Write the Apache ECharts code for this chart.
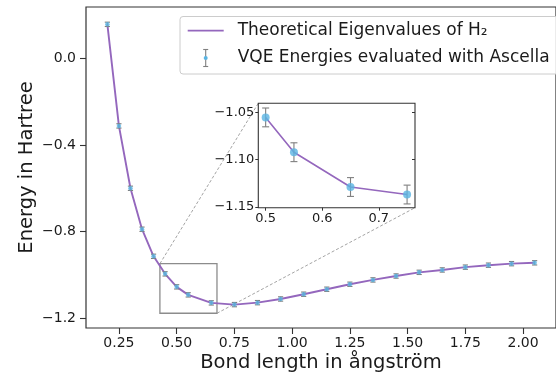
<!DOCTYPE html>
<html>
<head>
<meta charset="utf-8">
<script src="https://cdn.jsdelivr.net/npm/echarts@6/dist/echarts.min.js"></script>
<style>
  html, body { margin: 0; padding: 0; background: #fff; }
  #chart { width: 556px; height: 378px; }
</style>
</head>
<body>
<div id="chart"></div>
<script>
// ---- data ----
const bondLengths = [0.2, 0.25, 0.3, 0.35, 0.4, 0.45, 0.5, 0.55, 0.65, 0.75, 0.85, 0.95,
  1.05, 1.15, 1.25, 1.35, 1.45, 1.55, 1.65, 1.75, 1.85, 1.95, 2.05];
const theoryEnergies = [0.157, -0.312, -0.600, -0.789, -0.914, -0.995, -1.055, -1.092, -1.129,
  -1.137, -1.128, -1.111, -1.089, -1.066, -1.043, -1.023, -1.005, -0.988, -0.977, -0.964,
  -0.955, -0.948, -0.944];
const vqeEnergies = [0.157, -0.312, -0.600, -0.789, -0.914, -0.995, -1.055, -1.092, -1.129,
  -1.137, -1.128, -1.111, -1.089, -1.066, -1.043, -1.023, -1.005, -0.988, -0.977, -0.964,
  -0.955, -0.948, -0.944];
const vqeErrors = [0.01, 0.01, 0.01, 0.01, 0.01, 0.01, 0.01, 0.01, 0.01, 0.01, 0.01, 0.01,
  0.01, 0.01, 0.01, 0.01, 0.01, 0.01, 0.01, 0.01, 0.01, 0.01, 0.01];
const xTicks = [0.25, 0.5, 0.75, 1.0, 1.25, 1.5, 1.75, 2.0];
const yTicks = [0.0, -0.4, -0.8, -1.2];
const insetXTicks = [0.5, 0.6, 0.7];
const insetYTicks = [-1.05, -1.10, -1.15];
const insetRange = { xMin: 0.487, xMax: 0.764, yMin: -1.151, yMax: -1.04 };
const zoomBox = { x0: 0.4275, x1: 0.6746, y0: -1.177, y1: -0.948 };
const legendNames = ['Theoretical Eigenvalues of H\u2082', 'VQE Energies evaluated with Ascella'];

// ---- styling ----
const FONT = 'DejaVu Sans';
const PURPLE = '#9467bd';
const BLUE = '#5ab4e2';
const ERRGRAY = '#7f7f7f';
const AXIS = '#333333';

const fmt = (d) => (v) => { const s = Math.abs(v).toFixed(d); return (v < -1e-9 ? '\u2212' : '') + s; };

const mainPts = bondLengths.map((x, i) => [x, theoryEnergies[i]]);
const vqePts = bondLengths.map((x, i) => [x, vqeEnergies[i]]);
const errPts = bondLengths.map((x, i) => [x, vqeEnergies[i] - vqeErrors[i], vqeEnergies[i] + vqeErrors[i]]);
const inRange = (x) => x >= insetRange.xMin && x <= insetRange.xMax;
const insetLine = mainPts.filter(p => inRange(p[0]));
const insetVqe = vqePts.filter(p => inRange(p[0]));
const insetErr = errPts.filter(p => inRange(p[0]));

function errRender(capHalf, lw) {
  return function (params, api) {
    const x = api.value(0), lo = api.value(1), hi = api.value(2);
    const a = api.coord([x, lo]), b = api.coord([x, hi]);
    const st = { stroke: ERRGRAY, lineWidth: lw };
    return {
      type: 'group', children: [
        { type: 'line', shape: { x1: a[0], y1: a[1], x2: b[0], y2: b[1] }, style: st },
        { type: 'line', shape: { x1: a[0] - capHalf, y1: a[1], x2: a[0] + capHalf, y2: a[1] }, style: st },
        { type: 'line', shape: { x1: b[0] - capHalf, y1: b[1], x2: b[0] + capHalf, y2: b[1] }, style: st }
      ]
    };
  };
}

const chart = echarts.init(document.getElementById('chart'), null, { renderer: 'canvas', width: 556, height: 378 });

const option = {
  animation: false,
  backgroundColor: '#fff',
  textStyle: { fontFamily: FONT },
  grid: [
    { left: 86, top: 7, width: 486, height: 321, show: true, borderColor: AXIS, borderWidth: 1.2, backgroundColor: 'transparent' },
    { left: 258.3, top: 103.3, width: 156.7, height: 104.4, show: true, borderColor: AXIS, borderWidth: 1.1, backgroundColor: '#fff', z: 10 }
  ],
  xAxis: [
    {
      gridIndex: 0, type: 'value', min: 0.1075, max: 2.1425,
      name: 'Bond length in \u00e5ngstr\u00f6m', nameLocation: 'middle', nameGap: 25, nameMoveOverlap: false,
      nameTextStyle: { fontFamily: FONT, fontSize: 19.5, color: '#1a1a1a' },
      axisLine: { show: false, onZero: false },
      axisTick: { show: true, inside: false, length: 6, customValues: xTicks, lineStyle: { color: AXIS, width: 1.1 } },
      axisLabel: { customValues: xTicks, formatter: fmt(2), fontFamily: FONT, fontSize: 14, color: '#1a1a1a', margin: 8 },
      splitLine: { show: false }
    },
    {
      gridIndex: 1, type: 'value', min: insetRange.xMin, max: insetRange.xMax,
      axisLine: { show: false, onZero: false },
      axisTick: { show: true, length: 3, customValues: insetXTicks, lineStyle: { color: AXIS } },
      axisLabel: { customValues: insetXTicks, formatter: fmt(1), fontFamily: FONT, fontSize: 13, color: '#1a1a1a', margin: 4 },
      splitLine: { show: false }, z: 10
    }
  ],
  yAxis: [
    {
      gridIndex: 0, type: 'value', min: -1.245, max: 0.237,
      name: 'Energy in Hartree', nameLocation: 'middle', nameGap: 49, nameRotate: 90, nameMoveOverlap: false,
      nameTextStyle: { fontFamily: FONT, fontSize: 19.5, color: '#1a1a1a' },
      axisLine: { show: false, onZero: false },
      axisTick: { show: true, inside: false, length: 6, customValues: yTicks, lineStyle: { color: AXIS, width: 1.1 } },
      axisLabel: { customValues: yTicks, formatter: fmt(1), fontFamily: FONT, fontSize: 14, color: '#1a1a1a', margin: 10 },
      splitLine: { show: false }
    },
    {
      gridIndex: 1, type: 'value', min: insetRange.yMin, max: insetRange.yMax,
      axisLine: { show: false, onZero: false },
      axisTick: { show: true, length: 3, customValues: insetYTicks, lineStyle: { color: AXIS } },
      axisLabel: { customValues: insetYTicks, formatter: fmt(2), fontFamily: FONT, fontSize: 13, color: '#1a1a1a', margin: 4 },
      splitLine: { show: false }, z: 10
    },
    {
      gridIndex: 1, type: 'value', min: insetRange.yMin, max: insetRange.yMax, position: 'right',
      axisLine: { show: false, onZero: false },
      axisTick: { show: true, inside: true, length: 3, customValues: insetYTicks.slice(0, 2), lineStyle: { color: AXIS } },
      axisLabel: { show: false }, splitLine: { show: false }, z: 10
    }
  ],
  series: [
    {
      name: legendNames[0], type: 'line', xAxisIndex: 0, yAxisIndex: 0, data: mainPts,
      showSymbol: false, symbol: 'none', lineStyle: { color: PURPLE, width: 1.9 }, z: 2,
      markArea: {
        silent: true,
        itemStyle: { color: 'rgba(0,0,0,0)', borderColor: '#8c8c8c', borderWidth: 1.3 },
        data: [[{ coord: [zoomBox.x0, zoomBox.y1] }, { coord: [zoomBox.x1, zoomBox.y0] }]]
      }
    },
    {
      name: legendNames[1], type: 'custom', xAxisIndex: 0, yAxisIndex: 0, data: errPts,
      renderItem: errRender(2.6, 1.1), encode: { x: 0, y: [1, 2] }, z: 3
    },
    {
      type: 'scatter', xAxisIndex: 0, yAxisIndex: 0, data: vqePts, symbol: 'circle', symbolSize: 4.5,
      itemStyle: { color: BLUE }, z: 4
    },
    {
      type: 'line', xAxisIndex: 1, yAxisIndex: 1, data: insetLine, showSymbol: false, symbol: 'none',
      lineStyle: { color: PURPLE, width: 1.6 }, z: 12
    },
    {
      type: 'custom', xAxisIndex: 1, yAxisIndex: 1, data: insetErr,
      renderItem: errRender(3.5, 1.1), encode: { x: 0, y: [1, 2] }, z: 13
    },
    {
      type: 'scatter', xAxisIndex: 1, yAxisIndex: 1, data: insetVqe, symbol: 'circle', symbolSize: 8,
      itemStyle: { color: BLUE }, z: 14
    }
  ]
};
chart.setOption(option);

// connector lines from the zoom box to the inset, computed through the axes
const bTL = chart.convertToPixel({ gridIndex: 0 }, [zoomBox.x0, zoomBox.y1]);
const bBR = chart.convertToPixel({ gridIndex: 0 }, [zoomBox.x1, zoomBox.y0]);
const iTL = chart.convertToPixel({ gridIndex: 1 }, [insetRange.xMin, insetRange.yMax]);
const iBR = chart.convertToPixel({ gridIndex: 1 }, [insetRange.xMax, insetRange.yMin]);
const dash = { stroke: '#9a9a9a', lineWidth: 0.9, lineDash: [3, 2] };

chart.setOption({
  graphic: [
    { type: 'line', z: 1, shape: { x1: bTL[0], y1: bTL[1], x2: iTL[0], y2: iTL[1] }, style: dash, silent: true },
    { type: 'line', z: 1, shape: { x1: bBR[0], y1: bBR[1], x2: iBR[0], y2: iBR[1] }, style: dash, silent: true },
    // legend
    {
      type: 'group', z: 50, children: [
        { type: 'rect', shape: { x: 180, y: 16.5, width: 420, height: 57.5, r: 3 },
          style: { fill: 'rgba(255,255,255,0.85)', stroke: '#cccccc', lineWidth: 1 } },
        { type: 'line', shape: { x1: 187.7, y1: 30.7, x2: 223.7, y2: 30.7 }, style: { stroke: PURPLE, lineWidth: 1.8 } },
        { type: 'text', x: 237.7, y: 31, style: { text: legendNames[0], fontFamily: FONT, fontSize: 17, fill: '#1a1a1a', verticalAlign: 'middle' } },
        { type: 'line', shape: { x1: 205.7, y1: 49.5, x2: 205.7, y2: 66.5 }, style: { stroke: ERRGRAY, lineWidth: 1.1 } },
        { type: 'line', shape: { x1: 203.2, y1: 49.5, x2: 208.2, y2: 49.5 }, style: { stroke: ERRGRAY, lineWidth: 1.1 } },
        { type: 'line', shape: { x1: 203.2, y1: 66.5, x2: 208.2, y2: 66.5 }, style: { stroke: ERRGRAY, lineWidth: 1.1 } },
        { type: 'circle', shape: { cx: 205.7, cy: 58, r: 2 }, style: { fill: BLUE } },
        { type: 'text', x: 237.7, y: 58, style: { text: legendNames[1], fontFamily: FONT, fontSize: 17, fill: '#1a1a1a', verticalAlign: 'middle' } }
      ]
    }
  ]
});
</script>
</body>
</html>
